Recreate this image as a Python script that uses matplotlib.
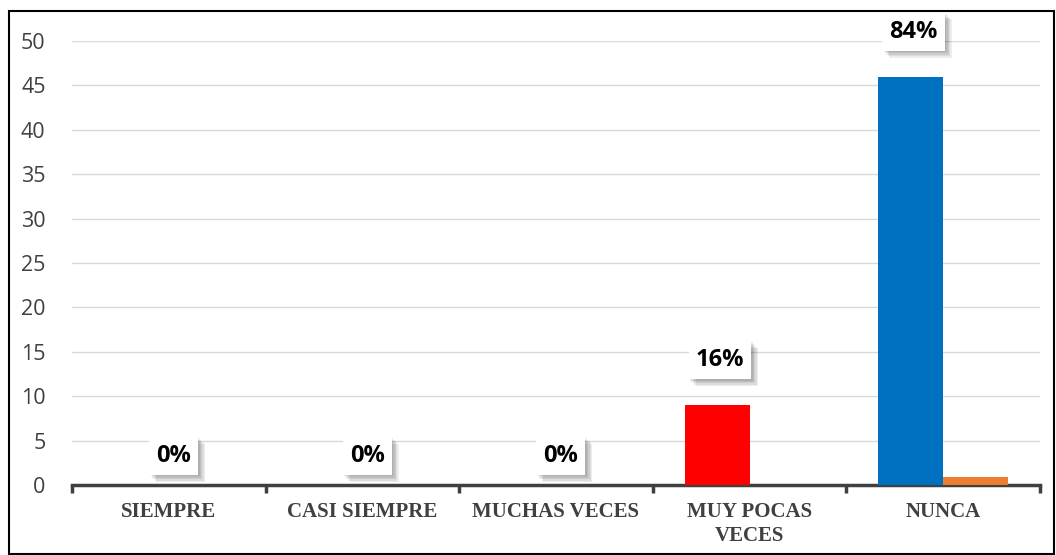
import numpy as np
import matplotlib.pyplot as plt
import matplotlib.patheffects as pe
from matplotlib.patches import Rectangle

categories = ['SIEMPRE', 'CASI SIEMPRE', 'MUCHAS VECES', 'MUY POCAS\nVECES', 'NUNCA']
serie1 = [0, 0, 0, 9, 46]
serie2 = [0, 0, 0, 0, 0.9]
pct_labels = ['0%', '0%', '0%', '16%', '84%']
colors1 = ['#0070C0', '#0070C0', '#0070C0', '#FF0000', '#0070C0']
color2 = '#ED7D31'

fig = plt.figure(figsize=(10.56, 5.55), dpi=100)
ax = fig.add_axes([72 / 1056, 1 - 485 / 555, (1040 - 72) / 1056, (485 - 41) / 555])

x = np.arange(len(categories))
w = 0.336
ax.bar(x - w / 2, serie1, width=w, color=colors1, zorder=3)
ax.bar(x + w / 2, serie2, width=w, color=color2, zorder=3)

ax.set_xlim(-0.5, len(categories) - 0.5)
ax.set_ylim(0, 50)
ax.set_yticks(np.arange(0, 51, 5))
ax.yaxis.grid(True, color='#D9D9D9', lw=1)
ax.set_axisbelow(True)
for s in ['top', 'right', 'left']:
    ax.spines[s].set_visible(False)
ax.spines['bottom'].set_color('#404040')
ax.spines['bottom'].set_linewidth(2.5)
ax.tick_params(axis='y', length=0, pad=19, labelsize=15.5, labelcolor='#404040')
for lab in ax.get_yticklabels():
    lab.set_fontfamily('Open Sans')

# category boundary ticks
ax.set_xticks(np.arange(-0.5, len(categories), 1.0))
ax.set_xticklabels([])
ax.tick_params(axis='x', which='major', length=6, width=2.5, color='#404040', direction='out')
ax.set_xticks(x, minor=True)
ax.set_xticklabels(categories, minor=True, fontfamily='Liberation Serif', fontweight='bold',
                   fontsize=15, color='#404040', linespacing=1.3)
ax.tick_params(axis='x', which='minor', length=0, pad=12)
for lab in ax.get_xticklabels(minor=True):
    lab.set_verticalalignment('top')

# soft shadow made of several offset copies
shadow = [pe.SimplePatchShadow(offset=(d, -d), shadow_rgbFace='#000000', alpha=0.07)
          for d in (1, 2, 3, 4, 5)]

# percentage labels with shadowed white boxes
for i, (v, t) in enumerate(zip(serie1, pct_labels)):
    if v > 0:
        xi = i - w / 2 + 0.015
        off = 45
    else:
        xi = i + 0.025
        off = 29
    txt = ax.annotate(t, (xi, v), xytext=(0, off * 0.72), textcoords='offset points',
                      ha='center', va='center', fontsize=17, fontweight='bold',
                      fontfamily='Open Sans', color='black', zorder=5,
                      annotation_clip=False,
                      bbox=dict(boxstyle='square,pad=0.3', fc='white', ec='none'))
    txt.get_bbox_patch().set_path_effects(shadow + [pe.Normal()])

fig.patches.append(Rectangle((9 / 1056, 1 / 555), (1054 - 9) / 1056, (544 - 1) / 555,
                             transform=fig.transFigure, fill=False, ec='black', lw=1.5))

fig.savefig('out.png', dpi=100)
